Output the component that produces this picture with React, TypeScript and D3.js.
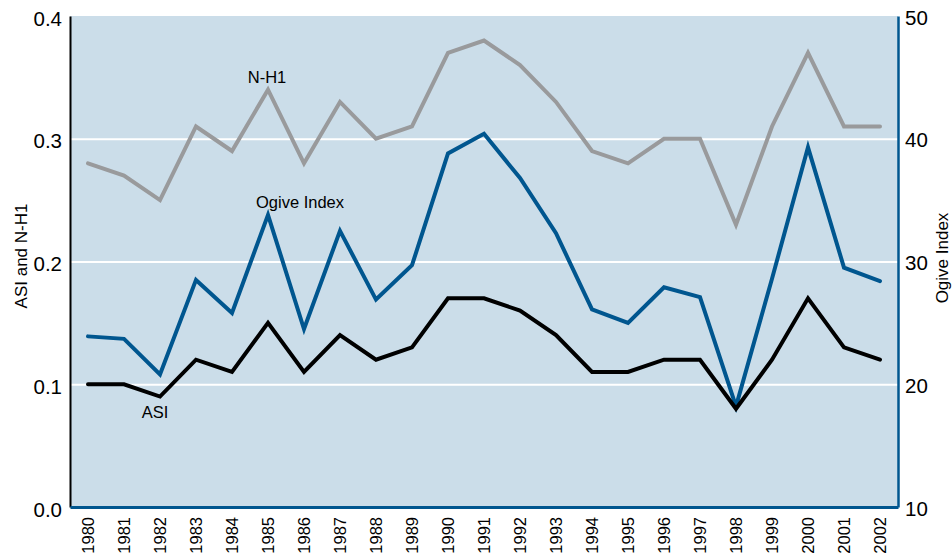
import { useEffect, useRef } from "react";
import * as d3 from "d3";

const YEARS = [
  "1980", "1981", "1982", "1983", "1984", "1985", "1986", "1987", "1988", "1989", "1990", "1991",
  "1992", "1993", "1994", "1995", "1996", "1997", "1998", "1999", "2000", "2001", "2002",
];
const NH1 = [0.28, 0.27, 0.25, 0.31, 0.29, 0.34, 0.28, 0.33, 0.3, 0.31, 0.37, 0.38, 0.36, 0.33, 0.29, 0.28, 0.3, 0.3, 0.23, 0.31, 0.37, 0.31, 0.31];
const ASI = [0.1, 0.1, 0.09, 0.12, 0.11, 0.15, 0.11, 0.14, 0.12, 0.13, 0.17, 0.17, 0.16, 0.14, 0.11, 0.11, 0.12, 0.12, 0.08, 0.12, 0.17, 0.13, 0.12];
const OGIVE = [23.9, 23.7, 20.8, 28.5, 25.8, 33.8, 24.5, 32.5, 26.9, 29.7, 38.8, 40.4, 36.8, 32.3, 26.1, 25.0, 27.9, 27.1, 18.2, 28.6, 39.3, 29.5, 28.4];
const LEFT_TICKS = [0, 0.1, 0.2, 0.3, 0.4];
const RIGHT_TICKS = [10, 20, 30, 40, 50];

const BLUE = "#00568f";
const GRAY = "#999a9c";
const FONT = "'Liberation Sans', Arial, Helvetica, sans-serif";

export default function App() {
  const ref = useRef<SVGSVGElement | null>(null);

  useEffect(() => {
    if (!ref.current) return;
    const W = 952, H = 560;
    const m = { top: 16, right: 54, bottom: 53, left: 70 };
    const iW = W - m.left - m.right;
    const iH = H - m.top - m.bottom;

    const svg = d3.select(ref.current);
    svg.selectAll("*").remove();

    const g = svg.append("g").attr("transform", `translate(${m.left},${m.top})`);

    const x = d3.scalePoint<string>().domain(YEARS).range([0, iW]).padding(0.5);
    const yL = d3.scaleLinear().domain([0, 0.4]).range([iH, 0]);
    const yR = d3.scaleLinear().domain([10, 50]).range([iH, 0]);

    // background
    g.append("rect").attr("width", iW).attr("height", iH).attr("fill", "#cbdde9");

    // grid
    g.append("g").call(d3.axisLeft(yL).tickValues([0.1, 0.2, 0.3]).tickSize(-iW - 3).tickFormat(() => ""))
      .attr("transform", "translate(-3,0)")
      .call(ax => ax.select(".domain").remove())
      .call(ax => ax.selectAll("line").attr("stroke", "#fff").attr("stroke-width", 2));

    // lines
    const line = (ys: (v: number) => number) =>
      d3.line<number>().x((_, i) => x(YEARS[i]) as number).y(d => ys(d));

    const series = [
      { data: NH1, scale: yL, color: GRAY },
      { data: OGIVE, scale: yR, color: BLUE },
      { data: ASI, scale: yL, color: "#000" },
    ];
    series.forEach(s => {
      g.append("path")
        .datum(s.data)
        .attr("fill", "none")
        .attr("stroke", s.color)
        .attr("stroke-width", 4)
        .attr("stroke-linejoin", "miter")
        .attr("stroke-linecap", "round")
        .attr("d", line(s.scale)(s.data) as string);
    });

    // axes
    const left = g.append("g").call(d3.axisLeft(yL).tickValues(LEFT_TICKS).tickSize(0).tickPadding(8).tickFormat(d3.format(".1f")));
    left.select(".domain").attr("stroke", "#000").attr("stroke-width", 2);
    left.selectAll("text").attr("font-size", 20.5).attr("font-family", FONT).attr("fill", "#000").attr("dy", "0.45em");

    const right = g.append("g").attr("transform", `translate(${iW},0)`)
      .call(d3.axisRight(yR).tickValues(RIGHT_TICKS).tickSize(0).tickPadding(7));
    right.select(".domain").attr("stroke", BLUE).attr("stroke-width", 2.5);
    right.selectAll("text").attr("font-size", 20.5).attr("font-family", FONT).attr("fill", "#000").attr("dy", "0.4em");

    const bottom = g.append("g").attr("transform", `translate(0,${iH})`)
      .call(d3.axisBottom(x).tickSize(0));
    bottom.select(".domain").attr("stroke", BLUE).attr("stroke-width", 3);
    bottom.selectAll("text")
      .attr("font-size", 16.5).attr("font-family", FONT).attr("fill", "#000")
      .attr("transform", "rotate(-90)")
      .attr("text-anchor", "end")
      .attr("x", -10).attr("y", 0).attr("dy", "0.36em");

    // axis titles
    svg.append("text")
      .attr("transform", `translate(27,256) rotate(-90)`)
      .attr("text-anchor", "middle").attr("font-size", 17).attr("font-family", FONT)
      .text("ASI and N-H1");
    svg.append("text")
      .attr("transform", `translate(948,258) rotate(-90)`)
      .attr("text-anchor", "middle").attr("font-size", 17).attr("font-family", FONT)
      .text("Ogive Index");

    // series labels
    const lab = (t: string, xi: string, dx: number, yv: number) =>
      g.append("text")
        .attr("x", (x(xi) as number) + dx).attr("y", yv)
        .attr("text-anchor", "middle").attr("font-size", 16.5).attr("font-family", FONT)
        .text(t);
    lab("N-H1", "1985", -1, yL(0.34) - 7);
    lab("Ogive Index", "1986", -4, yR(33.8) - 7);
    lab("ASI", "1982", -5, yL(0.09) + 21);
  }, []);

  return (
    <svg ref={ref} width={952} height={560} style={{ display: "block", position: "absolute", left: 0, top: 0 }} />
  );
}
